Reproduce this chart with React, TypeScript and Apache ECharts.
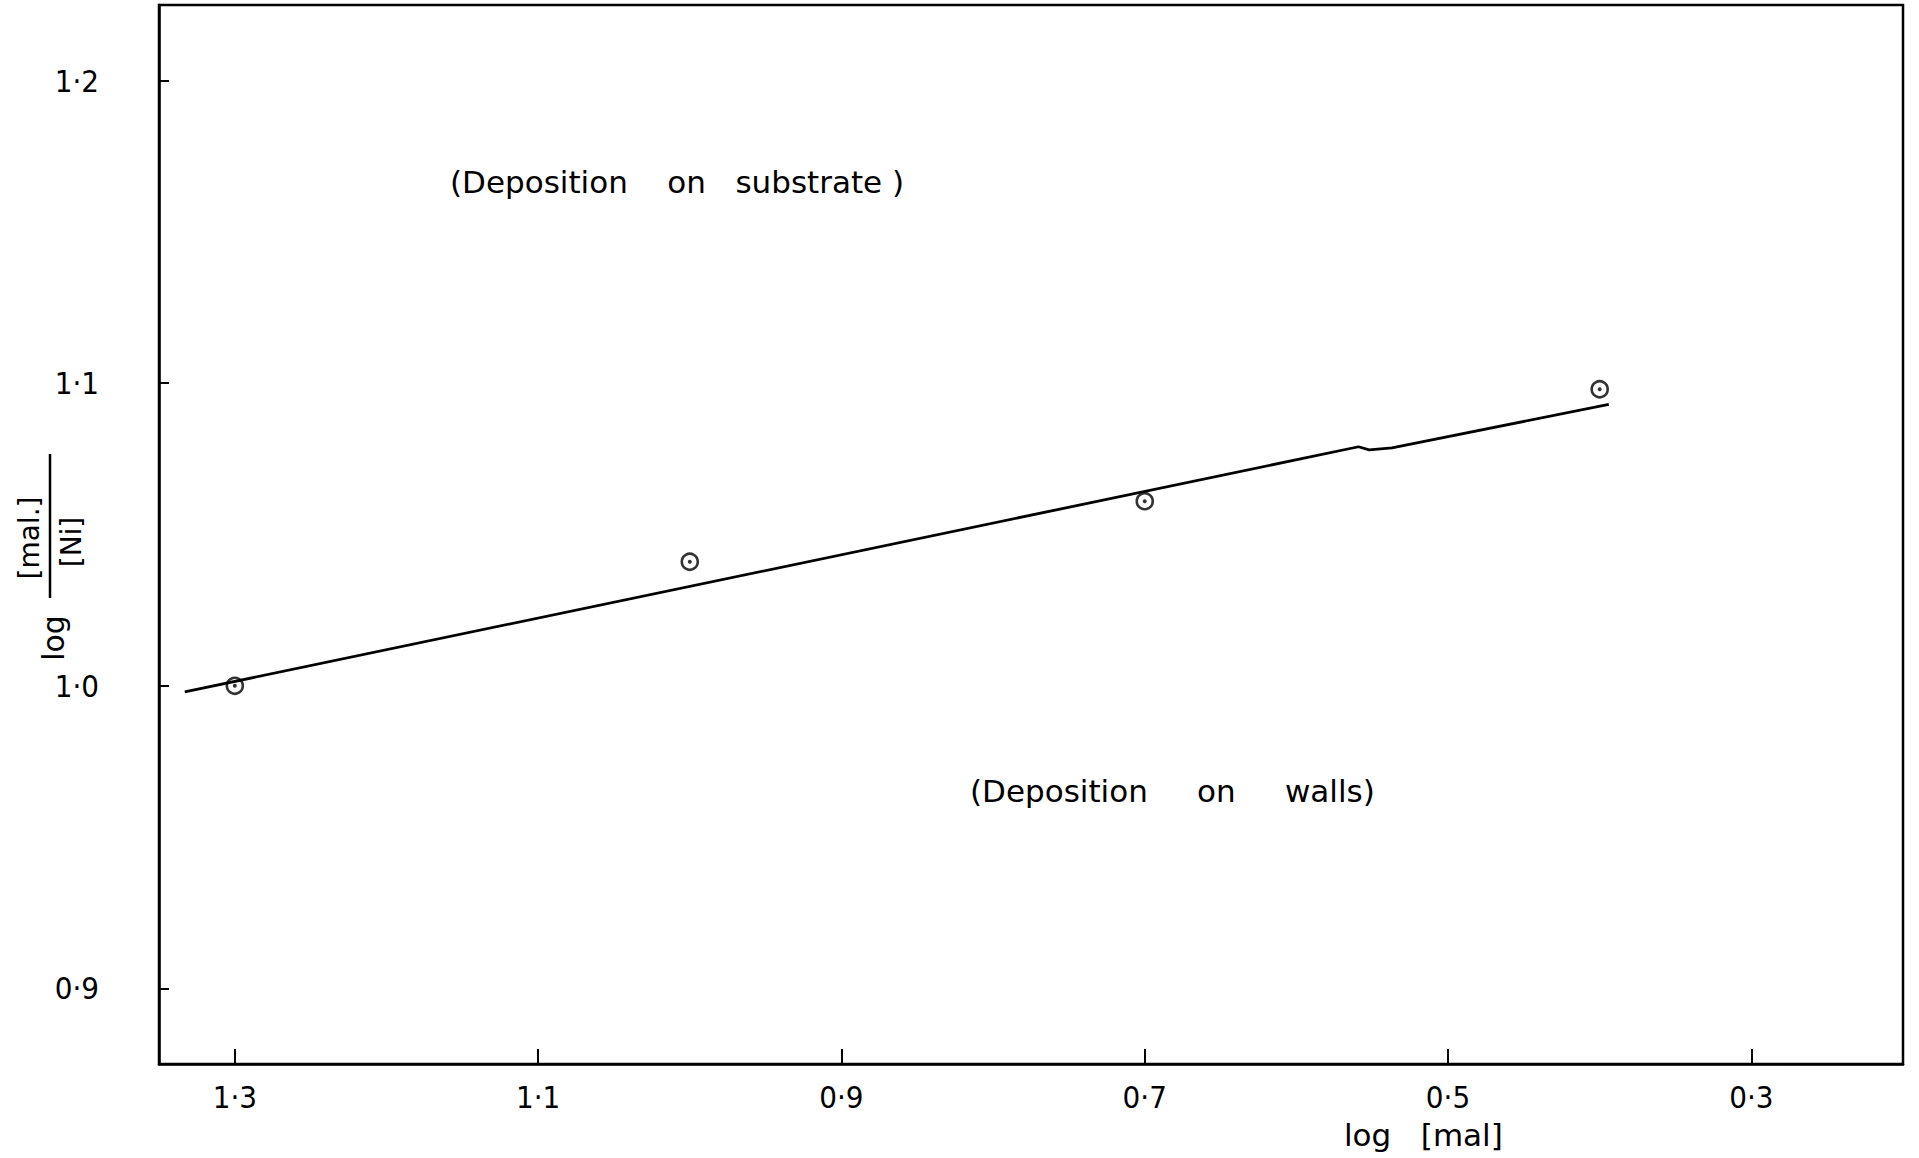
import React, { useEffect, useRef } from "react";
import * as echarts from "echarts";

// Data
const pointX = [1.3, 1.0, 0.7, 0.4];
const pointY = [1.0, 1.041, 1.061, 1.098];

// Hand-drawn fitted line (with its small kink near 0.55)
const lineX = [1.333, 0.559, 0.552, 0.537, 0.394];
const lineY = [0.998, 1.079, 1.078, 1.0786, 1.093];

const xTicks = [1.3, 1.1, 0.9, 0.7, 0.5, 0.3];
const yTicks = [0.9, 1.0, 1.1, 1.2];

const xTitle = "log   [mal]";
const yTitleLog = "log";
const yTitleNum = "[mal.]";
const yTitleDen = "[Ni]";
const noteTop = "(Deposition    on   substrate )";
const noteBottom = "(Deposition     on     walls)";

const fmt = (v: number) => v.toFixed(1).replace(".", "·");

const TICK_FONT = "'Liberation Sans Narrow', 'DejaVu Sans Condensed', 'Liberation Sans', sans-serif";
const TEXT_FONT = "'DejaVu Sans', sans-serif";

export default function App() {
  const ref = useRef<HTMLDivElement>(null);

  useEffect(() => {
    if (!ref.current) return;
    const chart = echarts.init(ref.current, null, { renderer: "svg" });
    const points = pointX.map((x, i) => [x, pointY[i]]);
    const line = lineX.map((x, i) => [x, lineY[i]]);

    chart.setOption({
      animation: false,
      backgroundColor: "#ffffff",
      grid: {
        left: 159,
        right: 16,
        top: 5,
        bottom: 94,
        show: true,
        borderColor: "#000",
        borderWidth: 2.5,
        backgroundColor: "transparent",
      },
      xAxis: {
        type: "value",
        inverse: true,
        min: 0.2,
        max: 1.35,
        axisLine: { show: true, onZero: false, lineStyle: { color: "#000", width: 2.5 } },
        axisTick: {
          show: true,
          inside: true,
          length: 15,
          customValues: xTicks,
          lineStyle: { color: "#000", width: 2 },
        },
        axisLabel: {
          show: true,
          customValues: xTicks,
          formatter: (v: number) => fmt(v),
          fontSize: 31,
          fontFamily: TICK_FONT,
          color: "#000",
          margin: 17,
        },
        splitLine: { show: false },
      },
      yAxis: {
        type: "value",
        min: 0.875,
        max: 1.225,
        axisLine: { show: true, onZero: false, lineStyle: { color: "#000", width: 2.5 } },
        axisTick: {
          show: true,
          inside: true,
          length: 10,
          customValues: yTicks,
          lineStyle: { color: "#000", width: 2 },
        },
        axisLabel: {
          show: true,
          customValues: yTicks,
          formatter: (v: number) => fmt(v),
          fontSize: 31,
          fontFamily: TICK_FONT,
          color: "#000",
          margin: 60,
        },
        splitLine: { show: false },
      },
      series: [
        {
          type: "line",
          data: line,
          showSymbol: false,
          symbol: "none",
          smooth: false,
          lineStyle: { color: "#000", width: 2.8 },
          z: 2,
        },
        {
          type: "scatter",
          data: points,
          symbol: "circle",
          symbolSize: 16,
          itemStyle: { color: "rgba(0,0,0,0)", borderColor: "#000", borderWidth: 2.6 },
          z: 3,
        },
        {
          type: "scatter",
          data: points,
          symbol: "circle",
          symbolSize: 4,
          itemStyle: { color: "#000" },
          z: 4,
        },
      ],
      graphic: [
        {
          type: "text",
          x: 450,
          y: 182,
          style: {
            text: noteTop,
            fontSize: 31,
            fontFamily: TEXT_FONT,
            fill: "#000",
            textAlign: "left",
            textVerticalAlign: "middle",
          },
        },
        {
          type: "text",
          x: 970,
          y: 791,
          style: {
            text: noteBottom,
            fontSize: 31,
            fontFamily: TEXT_FONT,
            fill: "#000",
            textAlign: "left",
            textVerticalAlign: "middle",
          },
        },
        {
          type: "text",
          x: 1344,
          y: 1135,
          style: {
            text: xTitle,
            fontSize: 31,
            fontFamily: TEXT_FONT,
            fill: "#000",
            textAlign: "left",
            textVerticalAlign: "middle",
          },
        },
        {
          type: "text",
          x: 53,
          y: 638,
          rotation: Math.PI / 2,
          style: {
            text: yTitleLog,
            fontSize: 30,
            fontFamily: TEXT_FONT,
            fill: "#000",
            textAlign: "center",
            textVerticalAlign: "middle",
          },
        },
        {
          type: "text",
          x: 29,
          y: 538,
          rotation: Math.PI / 2,
          style: {
            text: yTitleNum,
            fontSize: 28,
            fontFamily: TEXT_FONT,
            fill: "#000",
            textAlign: "center",
            textVerticalAlign: "middle",
          },
        },
        {
          type: "line",
          shape: { x1: 50, y1: 454, x2: 50, y2: 598 },
          style: { stroke: "#000", lineWidth: 2.5 },
        },
        {
          type: "text",
          x: 71,
          y: 542,
          rotation: Math.PI / 2,
          style: {
            text: yTitleDen,
            fontSize: 28,
            fontFamily: TEXT_FONT,
            fill: "#000",
            textAlign: "center",
            textVerticalAlign: "middle",
          },
        },
      ],
    });

    return () => {
      chart.dispose();
    };
  }, []);

  return (
    <div
      ref={ref}
      style={{ position: "fixed", left: 0, top: 0, width: 1919, height: 1158, background: "#fff" }}
    />
  );
}
